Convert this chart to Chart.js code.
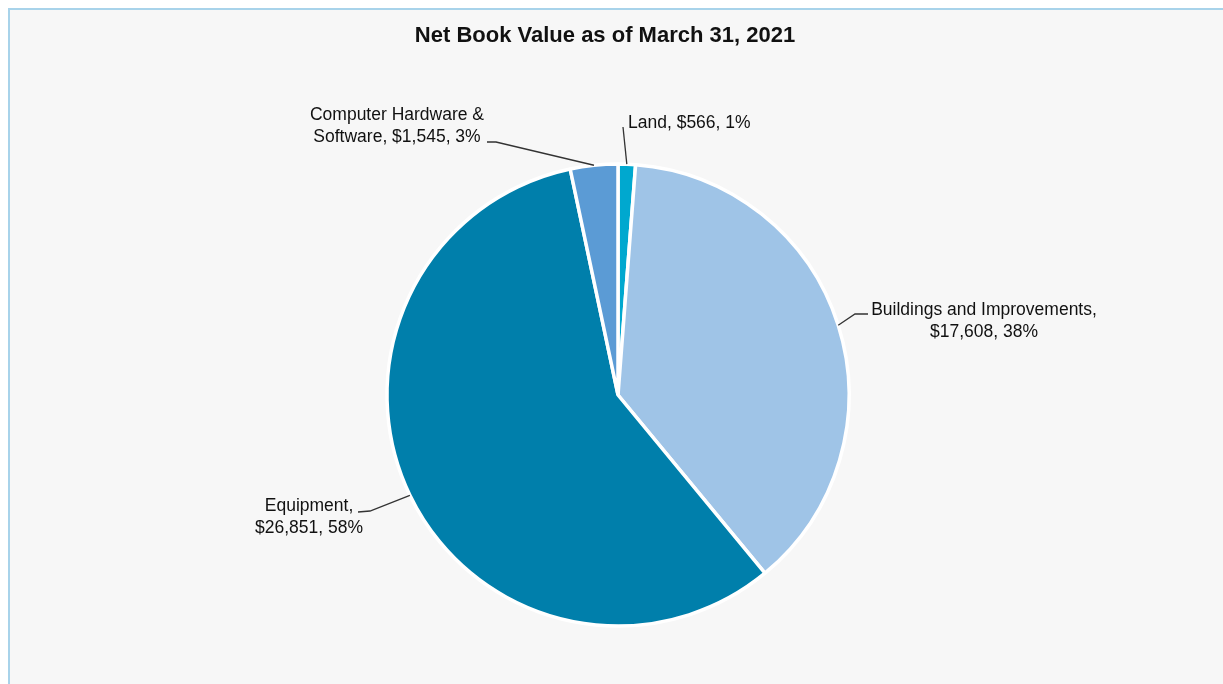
<!DOCTYPE html>
<html lang="en">
<head>
    <meta charset="UTF-8">
    <title>Net Book Value as of March 31, 2021</title>
    <script src="https://cdn.jsdelivr.net/npm/chart.js"></script>
    <style>
        html, body { margin: 0; padding: 0; background: #ffffff; overflow: hidden; }
        .frame {
            position: absolute; left: 8px; top: 8px; right: -20px; bottom: -20px;
            background: #f7f7f7;
            border-left: 2px solid #a8d3ea;
            border-top: 2px solid #a8d3ea;
        }
        #nbvChart { position: absolute; left: 0; top: 0; }
    </style>
</head>
<body>
<div class="frame"></div>
<canvas id="nbvChart" width="1223" height="684"></canvas>

<script>
// Net book value by asset class, thousands of dollars
const categories = ['Land', 'Buildings and Improvements', 'Equipment', 'Computer Hardware & Software'];
const values = [566, 17608, 26851, 1545];
const sliceColors = ['#00a8cf', '#9fc4e7', '#007fab', '#5b9bd5'];

// Label placement: words on the first line, text anchor, leader elbows
const labelLayout = [
    { words: 99, x: 628, y: 128, align: 'left',   leader: [[623, 127]] },
    { words: 3,  x: 984, y: 315, align: 'center', leader: [[855, 314], [868, 314]] },
    { words: 1,  x: 309, y: 511, align: 'center', leader: [[370, 511], [358, 512]] },
    { words: 3,  x: 397, y: 120, align: 'center', leader: [[496, 142], [487, 142]] }
];

const total = values.reduce((a, b) => a + b, 0);

function labelLines(i) {
    const pct = Math.round(values[i] / total * 100);
    const words = (categories[i] + ', $' + values[i].toLocaleString('en-US') + ', ' + pct + '%').split(' ');
    const n = labelLayout[i].words;
    const lines = [words.slice(0, n).join(' ')];
    if (words.length > n) lines.push(words.slice(n).join(' '));
    return lines;
}

const sliceLabels = {
    id: 'sliceLabels',
    afterDatasetsDraw(chart) {
        const ctx = chart.ctx;
        const arcs = chart.getDatasetMeta(0).data;
        ctx.save();

        // title
        ctx.fillStyle = '#111111';
        ctx.font = 'bold 22px "Liberation Sans", Arial, sans-serif';
        ctx.textAlign = 'center';
        ctx.textBaseline = 'alphabetic';
        ctx.fillText('Net Book Value as of March 31, 2021', 605, 42);

        arcs.forEach((arc, i) => {
            const p = arc.getProps(['x', 'y', 'startAngle', 'endAngle', 'outerRadius'], true);
            const mid = (p.startAngle + p.endAngle) / 2;
            const lay = labelLayout[i];

            ctx.strokeStyle = '#333333';
            ctx.lineWidth = 1.3;
            ctx.beginPath();
            ctx.moveTo(p.x + Math.cos(mid) * p.outerRadius, p.y + Math.sin(mid) * p.outerRadius);
            lay.leader.forEach(pt => ctx.lineTo(pt[0], pt[1]));
            ctx.stroke();

            ctx.fillStyle = '#111111';
            ctx.font = '17.5px "Liberation Sans", Arial, sans-serif';
            ctx.textAlign = lay.align;
            labelLines(i).forEach((line, k) => ctx.fillText(line, lay.x, lay.y + k * 22));
        });
        ctx.restore();
    }
};

new Chart(document.getElementById('nbvChart'), {
    type: 'pie',
    data: {
        labels: categories,
        datasets: [{
            data: values,
            backgroundColor: sliceColors,
            borderColor: '#ffffff',
            borderWidth: 3.5
        }]
    },
    options: {
        responsive: false,
        animation: false,
        radius: 231,
        layout: { padding: { left: 13, right: 0, top: 106, bottom: 0 } },
        plugins: {
            legend: { display: false },
            title: { display: false },
            tooltip: { enabled: false }
        }
    },
    plugins: [sliceLabels]
});
</script>
</body>
</html>
